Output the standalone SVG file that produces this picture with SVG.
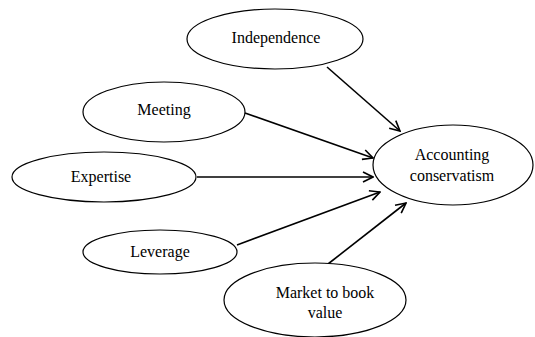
<svg xmlns="http://www.w3.org/2000/svg" width="535" height="337" viewBox="0 0 535 337">
<style>
.n ellipse{fill:#fff;stroke:#000;stroke-width:1.2}
.n text{font-family:"Liberation Serif",serif;font-size:16px;fill:#000;text-anchor:middle}
.c line{stroke:#000;stroke-width:1.6;marker-end:url(#ah)}
</style>
<defs>
<marker id="ah" viewBox="0 0 12 12" refX="11" refY="6" markerWidth="12" markerHeight="12" markerUnits="userSpaceOnUse" orient="auto">
<path d="M1,1 L11,6 L1,11" fill="none" stroke="#000" stroke-width="1.6"/>
</marker>
</defs>
<rect width="535" height="337" fill="#fff"/>
<g class="c">
<line x1="327" y1="67" x2="400" y2="131"/>
<line x1="245" y1="113" x2="373" y2="158"/>
<line x1="197" y1="177" x2="373" y2="177"/>
<line x1="237" y1="245" x2="380" y2="192"/>
<line x1="328" y1="264" x2="406" y2="203"/>
</g>
<g id="independence" class="n"><ellipse cx="275" cy="39" rx="88" ry="30"/><text x="276" y="43">Independence</text></g>
<g id="meeting" class="n"><ellipse cx="164" cy="112" rx="81" ry="30"/><text x="164" y="115">Meeting</text></g>
<g id="expertise" class="n"><ellipse cx="104" cy="177" rx="92" ry="25"/><text x="101" y="182">Expertise</text></g>
<g id="leverage" class="n"><ellipse cx="160" cy="252" rx="77" ry="22"/><text x="160" y="257">Leverage</text></g>
<g id="market" class="n"><ellipse cx="315" cy="300" rx="91" ry="37"/><text x="325" y="298">Market to book</text><text x="325" y="318">value</text></g>
<g id="accounting" class="n"><ellipse cx="453" cy="165" rx="80" ry="40"/><text x="452" y="160">Accounting</text><text x="452" y="181">conservatism</text></g>
</svg>
